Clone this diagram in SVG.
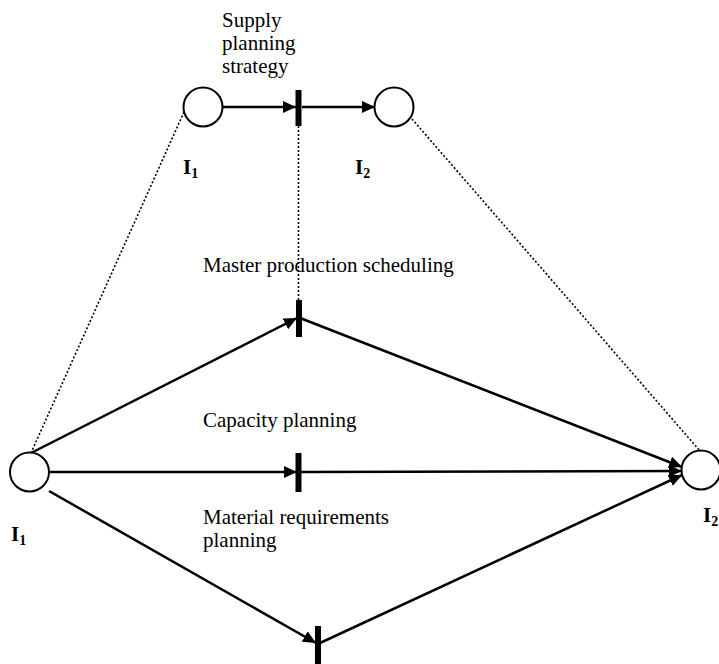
<svg xmlns="http://www.w3.org/2000/svg" width="719" height="664" viewBox="0 0 719 664">
<style>
.t{font-family:"Liberation Serif","Times New Roman",serif;font-size:21px;fill:#000}
.lb{font-family:"Liberation Serif","Times New Roman",serif;font-size:21px;font-weight:bold;fill:#000}
.sub{font-size:14px}
.arc{stroke:#000;stroke-width:2.5;fill:none}
.dot{stroke:#000;stroke-width:1.6;stroke-dasharray:2,2;fill:none}
.pl{fill:#fff;stroke:#000;stroke-width:2}
.tr{fill:#000}
</style>
<defs>
<marker id="ah" markerUnits="userSpaceOnUse" markerWidth="14" markerHeight="12" refX="13" refY="6" orient="auto">
<path d="M0,0 L13,6 L0,12 z" fill="#000"/>
</marker>
</defs>
<g id="connectors">
<line class="dot" x1="184" y1="112" x2="31" y2="453"/>
<line class="dot" x1="298.5" y1="126" x2="298.5" y2="300"/>
<line class="dot" x1="412" y1="119" x2="700" y2="451"/>
<line class="arc" x1="222" y1="107" x2="296" y2="107" marker-end="url(#ah)"/>
<line class="arc" x1="302" y1="107" x2="375" y2="107" marker-end="url(#ah)"/>
<line class="arc" x1="31" y1="453" x2="297" y2="318" marker-end="url(#ah)"/>
<line class="arc" x1="300" y1="318" x2="682" y2="467" marker-end="url(#ah)"/>
<line class="arc" x1="49" y1="472" x2="297" y2="472" marker-end="url(#ah)"/>
<line class="arc" x1="300" y1="472" x2="682" y2="471" marker-end="url(#ah)"/>
<line class="arc" x1="49" y1="491" x2="316" y2="643" marker-end="url(#ah)"/>
<line class="arc" x1="320" y1="643" x2="682" y2="475" marker-end="url(#ah)"/>
</g>
<g id="p-top-I1"><circle class="pl" cx="203" cy="107" r="19.5"/>
<text class="lb" x="183" y="174">I<tspan class="sub" dy="4">1</tspan></text></g>
<g id="p-top-I2"><circle class="pl" cx="394" cy="107" r="19.5"/>
<text class="lb" x="355" y="174">I<tspan class="sub" dy="4">2</tspan></text></g>
<g id="t-supply"><rect class="tr" x="295.5" y="90" width="6" height="36"/>
<text class="t" x="222" y="27">Supply</text><text class="t" x="222" y="50">planning</text><text class="t" x="222" y="73">strategy</text></g>
<g id="t-mps"><rect class="tr" x="296" y="300" width="6" height="37"/>
<text class="t" x="203" y="272">Master production scheduling</text></g>
<g id="t-cap"><rect class="tr" x="295.5" y="453" width="6" height="39"/>
<text class="t" x="203" y="427">Capacity planning</text></g>
<g id="t-mrp"><rect class="tr" x="315" y="626" width="6" height="38"/>
<text class="t" x="203" y="524">Material requirements</text><text class="t" x="203" y="547">planning</text></g>
<g id="p-bot-I1"><circle class="pl" cx="29.5" cy="472" r="19.5"/>
<text class="lb" x="11" y="541">I<tspan class="sub" dy="4">1</tspan></text></g>
<g id="p-bot-I2"><circle class="pl" cx="701" cy="470" r="19.5"/>
<text class="lb" x="703" y="522">I<tspan class="sub" dy="4">2</tspan></text></g>
</svg>
